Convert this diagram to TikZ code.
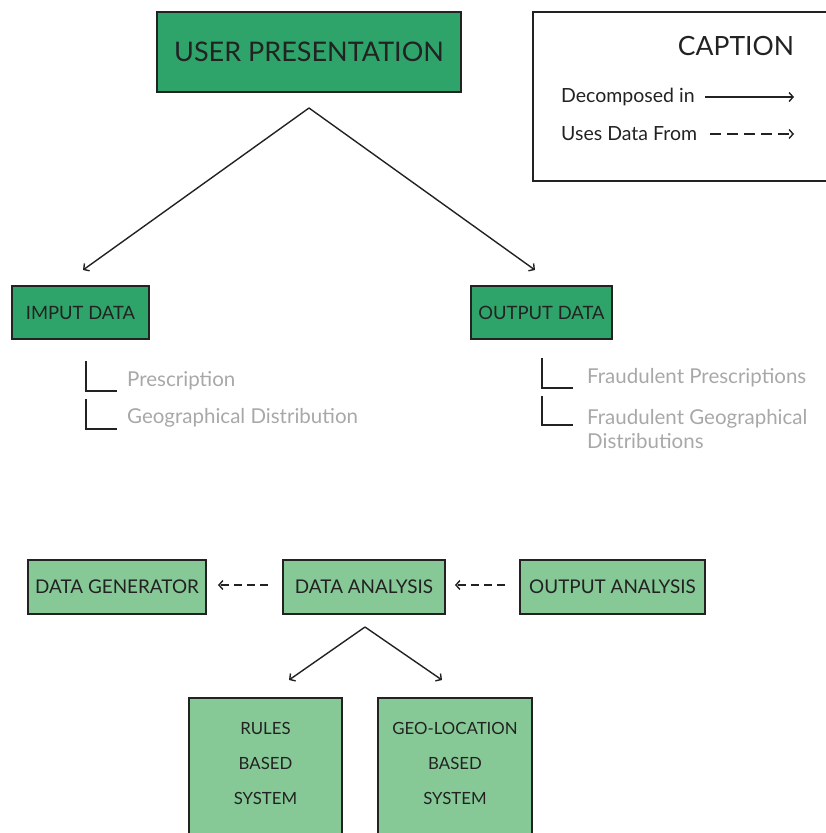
\documentclass[tikz,border=0pt]{standalone}
\usepackage{fontspec}
\setmainfont{Lato}
\usetikzlibrary{arrows.meta}
\definecolor{dg}{HTML}{2FA46A}
\definecolor{lg}{HTML}{86C996}
\definecolor{tx}{HTML}{222222}
\definecolor{gr}{HTML}{A8A8A8}
\tikzset{
  darkbox/.style={draw=tx,line width=1.8pt,fill=dg,text=tx,inner sep=0pt},
  lightbox/.style={draw=tx,line width=1.8pt,fill=lg,text=tx,inner sep=0pt},
  conn/.style={draw=tx,line width=1.4pt,-{Straight Barb[length=4pt,width=9pt]}},
  dconn/.style={conn,dash pattern=on 8pt off 5pt},
  ldconn/.style={conn,dash pattern=on 11pt off 6pt},
  item/.style={text=gr,anchor=west,inner sep=0pt,font=\fontsize{20.5}{24}\selectfont},
  lmark/.style={draw=tx,line width=1.5pt},
  btxt/.style={text=tx,font=\fontsize{16.8}{20}\selectfont},
}
\begin{document}
\begin{tikzpicture}[x=1pt,y=-1pt]
\useasboundingbox (0,0) rectangle (826,833);
% top
\node[darkbox,minimum width=304pt,minimum height=80pt,font=\fontsize{27}{32}\selectfont] (up) at (309,52) {USER PRESENTATION};
% caption
\draw[tx,line width=1.8pt] (850,12) -- (533,12) -- (533,181) -- (850,181);
\node[text=tx,font=\fontsize{26.5}{30}\selectfont,inner sep=0pt] (cap) at (736,46) {CAPTION};
\node[text=tx,anchor=west,inner sep=0pt,font=\fontsize{19.5}{22}\selectfont] (dec) at (561,97) {Decomposed in};
\node[text=tx,anchor=west,inner sep=0pt,font=\fontsize{19.5}{22}\selectfont] (use) at (561,134) {Uses Data From};
\coordinate (d1) at (705,97); \coordinate (d2) at (794,97);
\coordinate (u1) at (710,134); \coordinate (u2) at (794,134);
\draw[conn] (d1) -- (d2);
\draw[ldconn] (u1) -- (u2);
% second level
\node[darkbox,minimum width=137pt,minimum height=53pt,font=\fontsize{18.4}{22}\selectfont] (in) at (80.5,312.5) {IMPUT DATA};
\node[darkbox,minimum width=141pt,minimum height=53pt,font=\fontsize{18.4}{22}\selectfont] (out) at (541.5,312.5) {OUTPUT DATA};
\coordinate (apex) at (309,108);
\coordinate (ia) at (83,270);
\coordinate (oa) at (535,270);
\draw[conn] (apex) -- (ia);
\draw[conn] (apex) -- (oa);
% lists
\draw[lmark] (86,361) -- (86,391) -- (117,391);
\draw[lmark] (86,399) -- (86,429) -- (117,429);
\node[item] (p1) at (127,381) {Prescription};
\node[item] (p2) at (127,418) {Geographical Distribution};
\draw[lmark] (542,358) -- (542,388) -- (573,388);
\draw[lmark] (542,396) -- (542,425) -- (573,425);
\node[item] (f1) at (587,378) {Fraudulent Prescriptions};
\node[item,align=left] (f2) at (587,429) {Fraudulent Geographical\\[0pt]Distributions};
% bottom
\node[lightbox,minimum width=178pt,minimum height=54pt,font=\fontsize{18.9}{22}\selectfont] (gen) at (117,587) {DATA GENERATOR};
\node[lightbox,minimum width=162pt,minimum height=54pt,font=\fontsize{18.9}{22}\selectfont] (ana) at (364,587) {DATA ANALYSIS};
\node[lightbox,minimum width=185pt,minimum height=54pt,font=\fontsize{18.9}{22}\selectfont] (oan) at (612.5,587) {OUTPUT ANALYSIS};
\coordinate (g1) at (268,585); \coordinate (g2) at (218,585);
\coordinate (o1) at (505,585); \coordinate (o2) at (455,585);
\draw[dconn] (g1) -- (g2);
\draw[dconn] (o1) -- (o2);
\coordinate (apex2) at (365,627);
\coordinate (ra) at (289,680);
\coordinate (ga) at (442,680);
\draw[conn] (apex2) -- (ra);
\draw[conn] (apex2) -- (ga);
\node[lightbox,minimum width=153pt,minimum height=150pt,anchor=north] (rules) at (265.5,697) {};
\node[lightbox,minimum width=154pt,minimum height=150pt,anchor=north] (geo) at (455,697) {};
\node[btxt] (r1) at (265.5,728) {RULES};
\node[btxt] (r2) at (265.5,763) {BASED};
\node[btxt] (r3) at (265.5,798) {SYSTEM};
\node[btxt] (g1t) at (455,728) {GEO-LOCATION};
\node[btxt] (g2t) at (455,763) {BASED};
\node[btxt] (g3t) at (455,798) {SYSTEM};
\end{tikzpicture}
\end{document}
